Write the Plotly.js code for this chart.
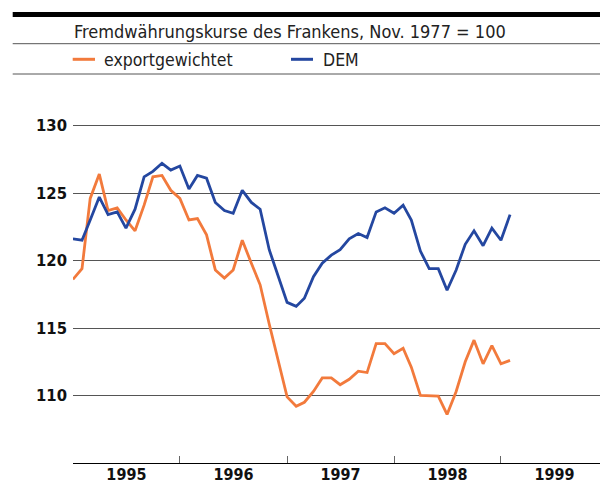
<!DOCTYPE html>
<html>
<head>
<meta charset="utf-8">
<script src="https://cdn.plot.ly/plotly-3.0.1.min.js"></script>
<style>html,body{margin:0;padding:0;background:#fff;}#chart{width:600px;height:486px;}</style>
</head>
<body>
<div id="chart"></div>
<script>
// ---- Data (monthly, index Nov. 1977 = 100) ----
const months = [
  '1995-01','1995-02','1995-03','1995-04','1995-05','1995-06','1995-07','1995-08','1995-09','1995-10','1995-11','1995-12',
  '1996-01','1996-02','1996-03','1996-04','1996-05','1996-06','1996-07','1996-08','1996-09','1996-10','1996-11','1996-12',
  '1997-01','1997-02','1997-03','1997-04','1997-05','1997-06','1997-07','1997-08','1997-09','1997-10','1997-11','1997-12',
  '1998-01','1998-02','1998-03','1998-04','1998-05','1998-06','1998-07','1998-08','1998-09','1998-10','1998-11','1998-12',
  '1999-01','1999-02'
];
const exportgewichtet = [
  118.6,119.4,124.6,126.4,123.7,123.9,123.0,122.2,124.1,126.2,126.3,125.2,
  124.6,123.0,123.1,121.9,119.3,118.7,119.3,121.5,119.8,118.2,115.3,112.7,
  109.9,109.2,109.5,110.3,111.3,111.3,110.8,111.2,111.8,111.7,113.85,113.85,
  113.1,113.5,112.1,110.0,109.95,109.95,108.6,110.3,112.5,114.1,112.35,113.7,
  112.35,112.6
];
const dem = [
  121.6,121.5,123.0,124.7,123.4,123.6,122.4,123.8,126.2,126.6,127.2,126.7,
  127.0,125.3,126.3,126.1,124.3,123.7,123.5,125.2,124.3,123.8,120.8,118.8,
  116.9,116.6,117.2,118.8,119.8,120.4,120.8,121.6,122.0,121.7,123.6,123.9,
  123.5,124.1,123.0,120.7,119.4,119.4,117.8,119.3,121.2,122.2,121.1,122.4,
  121.5,123.4
];
const yTicks = [110, 115, 120, 125, 130];
const titleText = 'Fremdwährungskurse des Frankens, Nov. 1977 = 100';
const seriesNames = ['exportgewichtet', 'DEM'];
const seriesColors = ['#F27A3C', '#2447A0'];

// ---- Layout geometry ----
const W = 600, H = 486;
const M = {l: 73, r: 0, t: 112, b: 23};
const PW = W - M.l - M.r, PH = H - M.t - M.b;
const px2x = px => (px - M.l) / PW;
const px2y = py => (H - M.b - py) / PH;

const FONT = '"DejaVu Sans Condensed", "DejaVu Sans", sans-serif';

const traces = [
  {x: months, y: exportgewichtet, name: seriesNames[0], type: 'scatter', mode: 'lines',
   line: {color: seriesColors[0], width: 2.8}, cliponaxis: false},
  {x: months, y: dem, name: seriesNames[1], type: 'scatter', mode: 'lines',
   line: {color: seriesColors[1], width: 2.8}, cliponaxis: false}
];

const shapes = [
  {type: 'line', xref: 'paper', yref: 'paper', x0: px2x(12.7), x1: 1, y0: px2y(14.5), y1: px2y(14.5), line: {color: '#000', width: 5}},
  {type: 'line', xref: 'paper', yref: 'paper', x0: px2x(12.7), x1: 1, y0: px2y(43.7), y1: px2y(43.7), line: {color: '#555', width: 1}},
  {type: 'line', xref: 'paper', yref: 'paper', x0: px2x(12.7), x1: 1, y0: px2y(74), y1: px2y(74), line: {color: '#555', width: 1}},
  {type: 'line', xref: 'paper', yref: 'paper', x0: px2x(72.7), x1: px2x(95), y0: px2y(59.3), y1: px2y(59.3), line: {color: seriesColors[0], width: 3}},
  {type: 'line', xref: 'paper', yref: 'paper', x0: px2x(291), x1: px2x(313), y0: px2y(59.3), y1: px2y(59.3), line: {color: seriesColors[1], width: 3}}
];

const annotations = [
  {text: titleText, xref: 'paper', yref: 'paper', x: px2x(72), y: px2y(31.7), xanchor: 'left', yanchor: 'middle', showarrow: false,
   font: {family: FONT, size: 18, color: '#222'}},
  {text: seriesNames[0], xref: 'paper', yref: 'paper', x: px2x(102), y: px2y(60), xanchor: 'left', yanchor: 'middle', showarrow: false,
   font: {family: FONT, size: 17.5, color: '#222'}},
  {text: seriesNames[1], xref: 'paper', yref: 'paper', x: px2x(321), y: px2y(60), xanchor: 'left', yanchor: 'middle', showarrow: false,
   font: {family: FONT, size: 17.5, color: '#222'}}
];

const layout = {
  width: W, height: H,
  margin: M,
  paper_bgcolor: '#fff', plot_bgcolor: '#fff',
  showlegend: false,
  font: {family: FONT, color: '#111'},
  xaxis: {
    type: 'date',
    range: ['1995-01-01 06:00', '1999-12-05'],
    tick0: '1995-01-01', dtick: 'M12',
    tickformat: '%Y', ticklabelmode: 'period',
    ticks: 'inside', ticklen: 7, tickwidth: 1, tickcolor: '#666',
    showline: true, linecolor: '#000', linewidth: 1,
    showgrid: false, zeroline: false,
    ticklabelstandoff: -3,
    tickfont: {family: FONT, size: 16, color: '#111', weight: 'bold'}
  },
  yaxis: {
    range: [105, 131],
    tickmode: 'array', tickvals: yTicks, ticktext: yTicks.map(String),
    ticks: '', showline: false, zeroline: false,
    showgrid: true, gridcolor: '#555', gridwidth: 1,
    ticklabelstandoff: 5,
    tickfont: {family: FONT, size: 16.5, color: '#111', weight: 'bold'}
  },
  shapes: shapes,
  annotations: annotations
};

Plotly.newPlot('chart', traces, layout, {staticPlot: true, displayModeBar: false});
</script>
</body>
</html>
